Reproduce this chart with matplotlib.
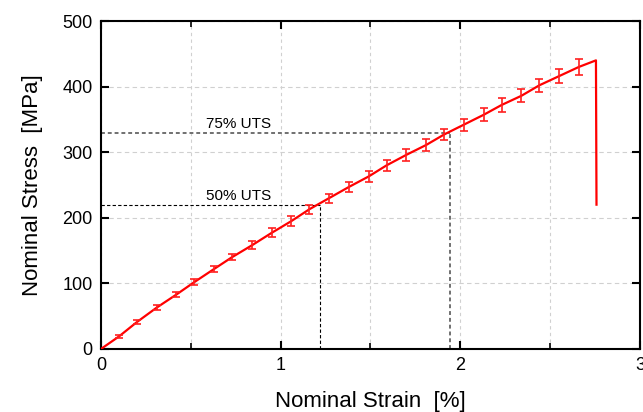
import matplotlib
matplotlib.use("Agg")
import matplotlib.pyplot as plt
from matplotlib.ticker import MultipleLocator

plt.rcParams['font.family'] = ['Liberation Sans', 'DejaVu Sans']

# Error-bar points (strain %, stress MPa, +/- error)
strain_pts = [0.10, 0.20, 0.31, 0.42, 0.52, 0.63, 0.73, 0.84, 0.95, 1.06,
              1.16, 1.27, 1.38, 1.49, 1.59, 1.70, 1.81, 1.91, 2.02, 2.13,
              2.23, 2.34, 2.44, 2.55, 2.66]
stress_pts = [19, 41, 63, 83, 102, 122, 140, 158, 177, 195,
              213, 230, 247, 263, 280, 296, 311, 327, 342, 357,
              372, 386, 402, 416, 430]
stress_err = [2.5, 3.5, 4, 4, 5, 5, 5, 6, 7, 7,
              7, 7, 8, 8, 8, 9, 9, 9, 9, 10,
              10, 10, 10, 11, 12]

# Mean curve (start, through points, peak, fracture drop)
curve_strain = [0.0] + strain_pts + [2.755, 2.758]
curve_stress = [0.0] + stress_pts + [440, 220]

# UTS reference levels
uts_labels = ["50% UTS", "75% UTS"]
uts_stress = [220, 330]
uts_strain = [1.22, 1.94]

fig = plt.figure(figsize=(6.43, 4.12), dpi=100)
ax = fig.add_axes([0.157, 0.153, 0.8383, 0.796])

ax.plot(curve_strain, curve_stress, color='#ff0000', lw=1.6, zorder=3)
ax.errorbar(strain_pts, stress_pts, yerr=stress_err, fmt='none',
            ecolor='#ff2020', elinewidth=1.2, capsize=3, capthick=1.2, zorder=3)

# 50% UTS
ax.plot([0, uts_strain[0]], [uts_stress[0], uts_stress[0]], color='black',
        lw=0.8, ls=(0, (3, 2)), zorder=2)
ax.plot([uts_strain[0], uts_strain[0]], [0, uts_stress[0]], color='black',
        lw=0.8, ls=(0, (3, 2)), zorder=2)
# 75% UTS
ax.plot([0, uts_strain[1]], [uts_stress[1], uts_stress[1]], color='#707070',
        lw=1.4, ls=(0, (2, 1.5)), zorder=2)
ax.plot([uts_strain[1], uts_strain[1]], [0, uts_stress[1]], color='#707070',
        lw=1.4, ls=(0, (2, 1.5)), zorder=2)

ax.text(0.765, uts_stress[0] + 2, uts_labels[0], ha='center', va='bottom', fontsize=11)
ax.text(0.765, uts_stress[1] + 2, uts_labels[1], ha='center', va='bottom', fontsize=11)

ax.set_xlim(0, 3)
ax.set_ylim(0, 500)
ax.xaxis.set_major_locator(MultipleLocator(1))
ax.xaxis.set_minor_locator(MultipleLocator(0.5))
ax.yaxis.set_major_locator(MultipleLocator(100))

ax.grid(True, which='both', axis='x', color='#d0d0d0', ls=(0, (3, 3)), lw=0.8)
ax.grid(True, which='major', axis='y', color='#d0d0d0', ls=(0, (4, 3)), lw=0.8)
ax.set_axisbelow(True)

ax.tick_params(which='major', direction='in', length=6, width=1.5,
               top=True, right=True, labelsize=13, pad=6)
ax.tick_params(which='minor', direction='in', length=4, width=1.2,
               top=True, right=True)
for s in ax.spines.values():
    s.set_linewidth(1.5)

ax.set_xlabel("Nominal Strain  [%]", fontsize=16, labelpad=12)
ax.set_ylabel("Nominal Stress  [MPa]", fontsize=16, labelpad=14)

fig.savefig("out.png", dpi=100)
